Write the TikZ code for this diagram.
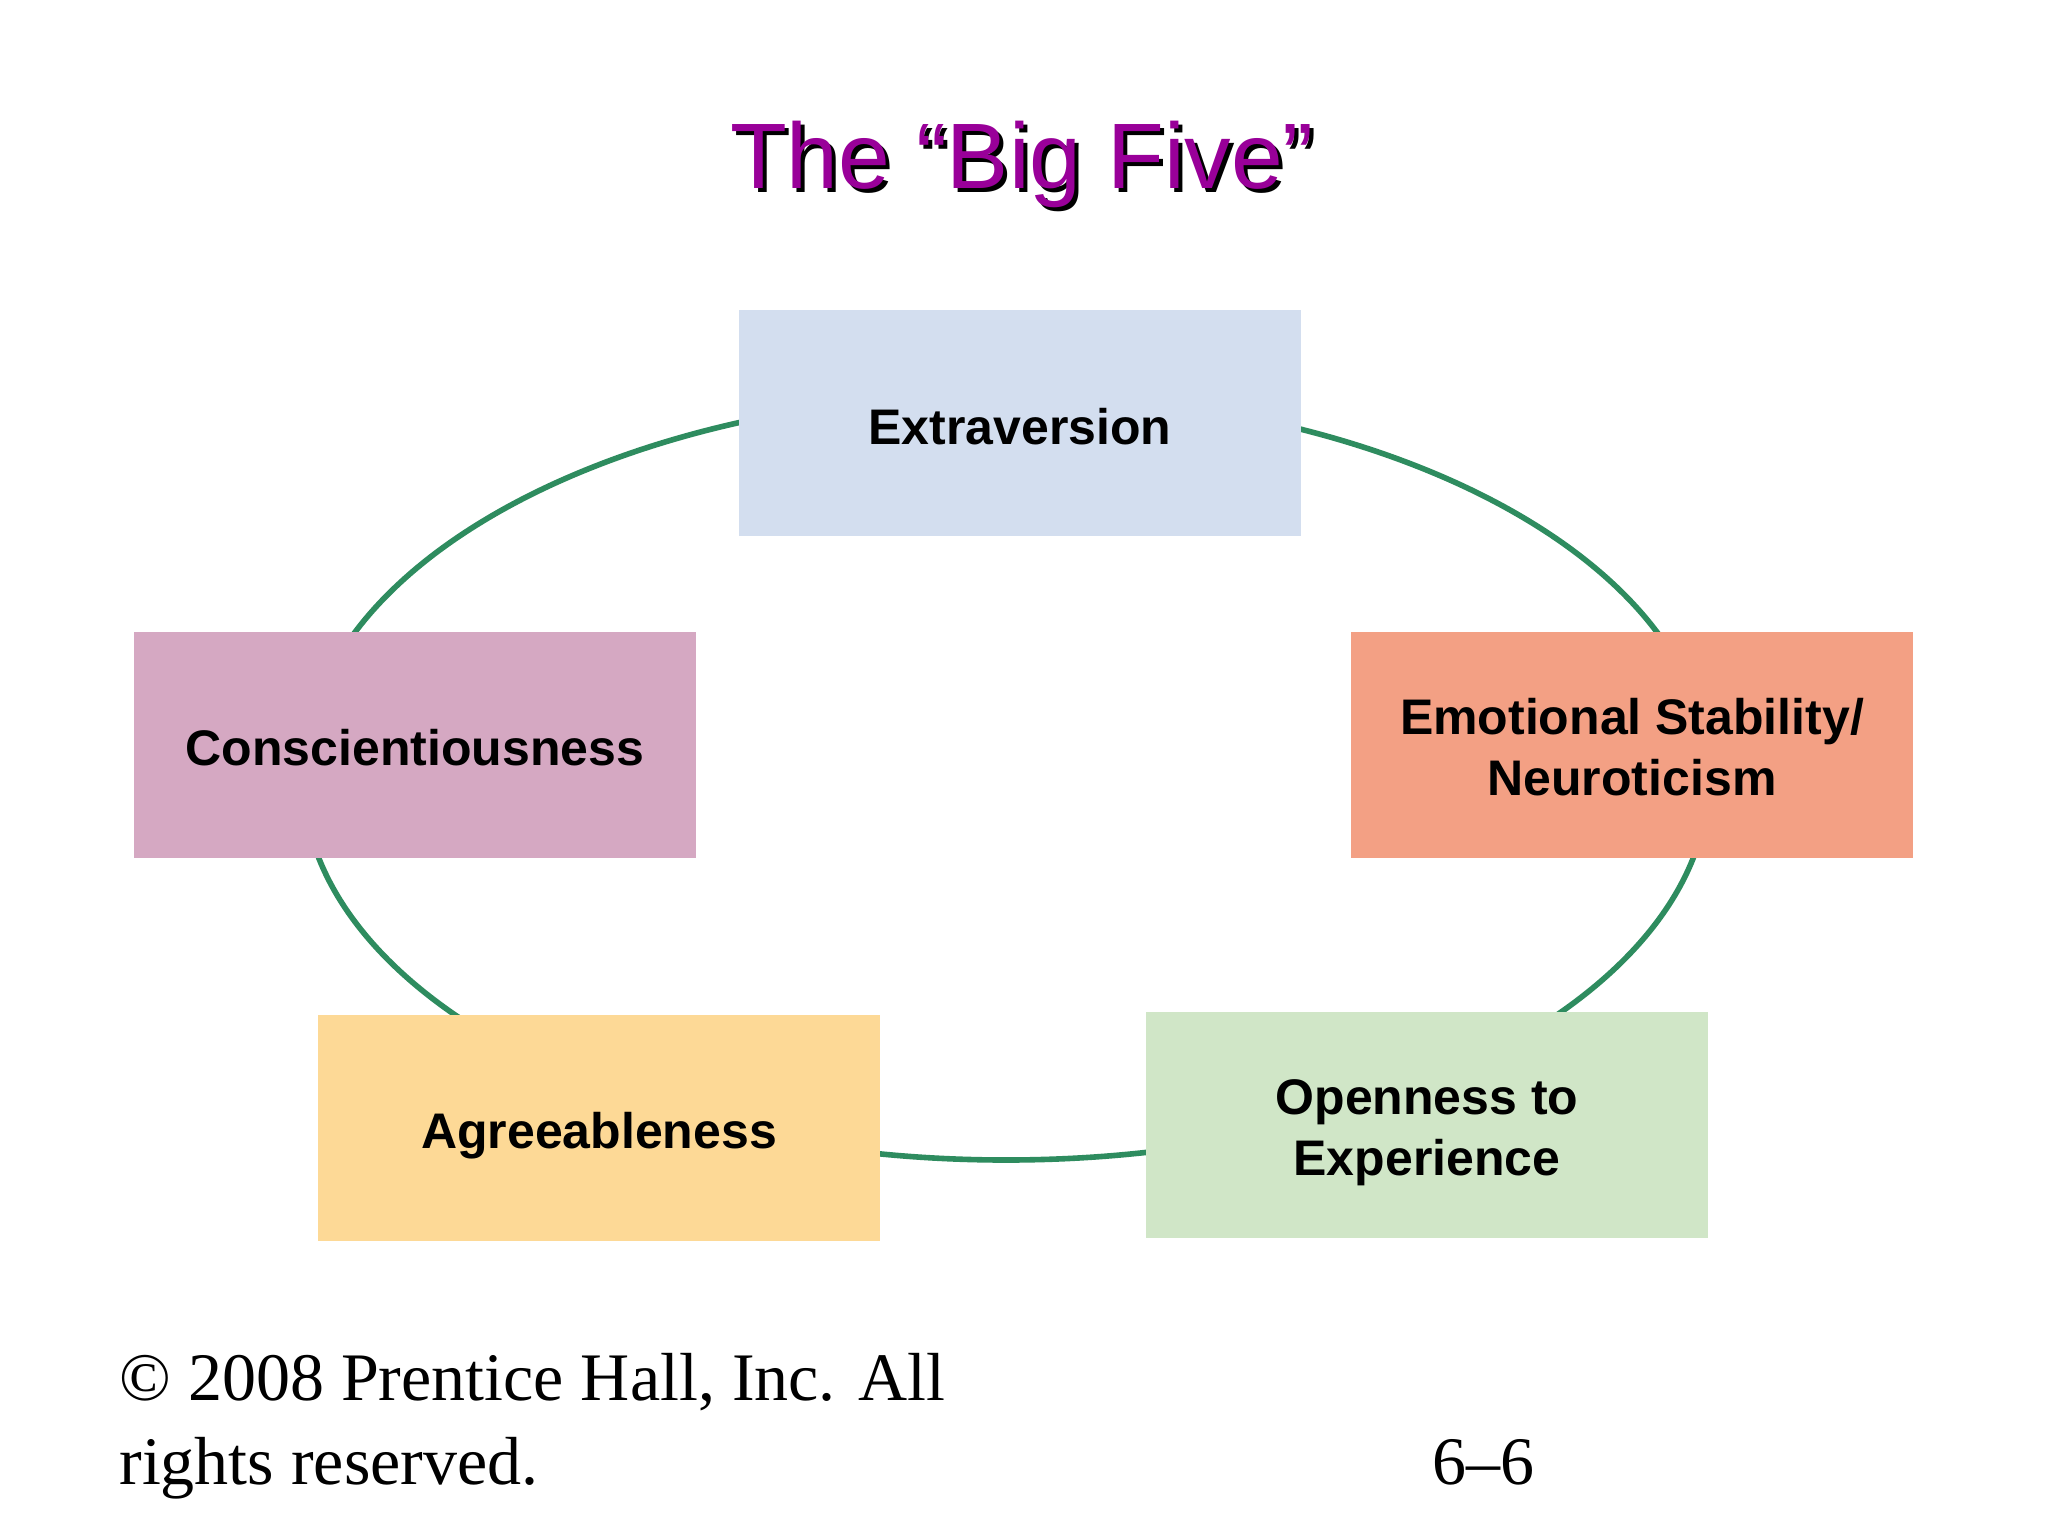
\documentclass[tikz,border=0pt]{standalone}
\usepackage{fontspec}
\setmainfont{Liberation Serif}
\newfontfamily\arialbf{Liberation Sans Bold}
\newfontfamily\arialrg{Liberation Sans}
\definecolor{ringgreen}{RGB}{46,140,95}
\definecolor{cExtra}{RGB}{211,222,239}
\definecolor{cConsc}{RGB}{213,168,194}
\definecolor{cEmo}{RGB}{243,160,132}
\definecolor{cAgree}{RGB}{253,217,150}
\definecolor{cOpen}{RGB}{208,230,199}
\definecolor{titlepurple}{RGB}{153,0,153}
\tikzset{
  traitbox/.style={minimum width=281pt, minimum height=113pt, inner sep=0pt},
  traittext/.style={inner sep=0pt, align=center,
    font=\arialbf\fontsize{25pt}{30.5pt}\selectfont, text=black},
  ring/.style={draw=ringgreen, line width=2.8pt},
  titletext/.style={font=\arialrg\fontsize{46.5pt}{56pt}\selectfont, anchor=base},
  foot/.style={font=\fontsize{34pt}{42pt}\selectfont, anchor=base west, inner sep=0pt}
}
\begin{document}
\begin{tikzpicture}[x=0.5pt,y=-0.5pt]
\useasboundingbox[fill=white] (0,0) rectangle (2048,1536);
% ring
\draw[ring] (1006,777) ellipse [x radius=351.5pt, y radius=191.5pt];
% title
\node[titletext, text=black] (titleshadow) at (1026,192) {The “Big Five”};
\node[titletext, text=titlepurple] (title) at (1022,188) {The “Big Five”};
% boxes
\node[traitbox, fill=cExtra] (extra) at (1020,423) {};
\node[traitbox, fill=cConsc] (consc) at (415,745) {};
\node[traitbox, fill=cEmo] (emo) at (1632,745) {};
\node[traitbox, fill=cAgree] (agree) at (599,1128) {};
\node[traitbox, fill=cOpen] (open) at (1427,1125) {};
% labels
\node[traittext] (extraT) at ([yshift=-2pt]extra.center) {Extraversion};
\node[traittext] (conscT) at ([yshift=-1.5pt]consc.center) {Conscientiousness};
\node[traittext] (emoT) at ([yshift=-1pt]emo.center) {Emotional Stability/\\Neuroticism};
\node[traittext] (agreeT) at ([yshift=-4pt]agree.center) {Agreeableness};
\node[traittext] (openT) at ([yshift=-4pt]open.center) {Openness to\\Experience};
% footer
\node[foot] (copy1) at (119,1400) {© 2008 Prentice Hall, Inc. All};
\node[foot] (copy2) at (119,1484) {rights reserved.};
\node[foot, anchor=base east] (page) at (1535,1484) {6–6};
\end{tikzpicture}
\end{document}
